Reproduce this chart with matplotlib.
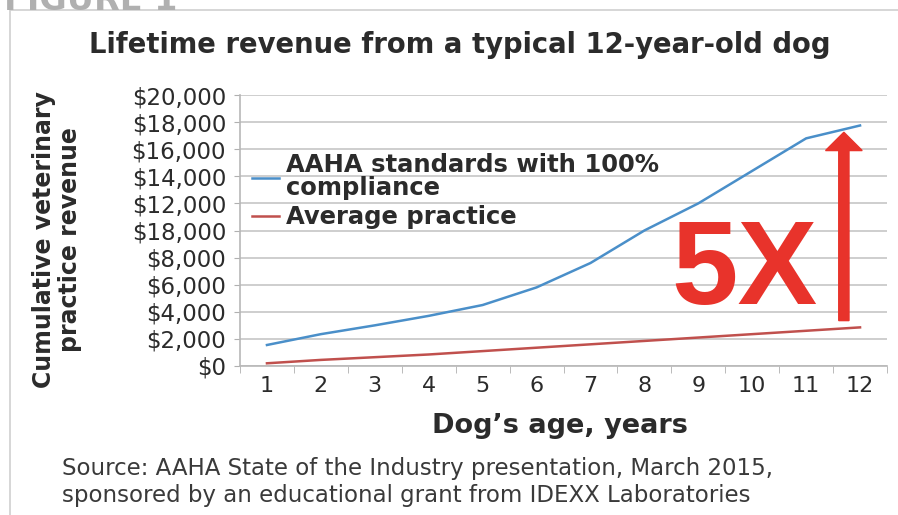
import matplotlib.pyplot as plt
from matplotlib.patches import FancyArrow, Rectangle

ages = list(range(1, 13))
aaha_revenue = [1550, 2350, 3000, 3700, 4500, 5800, 7600, 10000, 12000, 14400, 16800, 17750]
average_revenue = [200, 450, 650, 850, 1100, 1350, 1600, 1850, 2100, 2350, 2600, 2850]
y_ticks = list(range(0, 20001, 2000))
y_tick_labels = ["$0", "$2,000", "$4,000", "$6,000", "$8,000", "$18,000",
                 "$12,000", "$14,000", "$16,000", "$18,000", "$20,000"]
arrow_x = 11.7
arrow_y = [3350, 17250]

BLUE = "#4a8fc9"
RED = "#c0504d"
ARROW_RED = "#e8332b"
TEXT = "#2b2b2b"

plt.rcParams["font.family"] = ["DejaVu Sans"]

fig = plt.figure(figsize=(8.98, 5.15), dpi=100)

# light frame around the figure and the clipped "FIGURE 1" heading
fig.patches.append(Rectangle((10 / 898, -0.1), 1.0, 1 - 10 / 515 + 0.1,
                             transform=fig.transFigure, fill=False,
                             edgecolor="#d0d0d0", linewidth=1.2))
fig.text(4 / 898, 1.0, "FIGURE 1", fontsize=24, fontweight="bold",
         color="#b0b0b0", va="center", ha="left")

ax = fig.add_axes([240 / 898, 1 - 366 / 515, 647 / 898, 271 / 515])

ax.plot(ages, aaha_revenue, color=BLUE, linewidth=1.8,
        label="AAHA standards with 100%\ncompliance")
ax.plot(ages, average_revenue, color=RED, linewidth=1.8, label="Average practice")

ax.set_xlim(0.5, 12.5)
ax.set_ylim(0, 20000)
ax.set_yticks(y_ticks)
ax.set_yticklabels(y_tick_labels)
ax.set_xticks(ages)
ax.set_xticks([a + 0.5 for a in range(0, 13)], minor=True)
ax.tick_params(axis="x", which="major", length=0, labelsize=16, pad=7, colors=TEXT)
ax.tick_params(axis="x", which="minor", length=5, color="#b0b0b0")
ax.tick_params(axis="y", length=4, labelsize=16.5, pad=6, colors=TEXT)
ax.tick_params(axis="y", color="#b0b0b0")
ax.grid(axis="y", color="#c6c6c6", linewidth=1.2)
ax.set_axisbelow(True)
for side in ("top", "right"):
    ax.spines[side].set_visible(False)
for side in ("left", "bottom"):
    ax.spines[side].set_color("#b8b8b8")
    ax.spines[side].set_linewidth(1.2)

leg = ax.legend(loc="upper left", bbox_to_anchor=(0.0, 0.83), frameon=False,
                handlelength=1.1, handletextpad=0.3, labelspacing=0.2,
                borderaxespad=0.1, prop={"size": 17.5, "weight": "bold"})
for t in leg.get_texts():
    t.set_color(TEXT)
    t.set_linespacing(0.95)

ax.add_patch(FancyArrow(arrow_x, arrow_y[0], 0, arrow_y[1] - arrow_y[0],
                        width=0.19, head_width=0.68, head_length=1350,
                        length_includes_head=True, color=ARROW_RED, zorder=5))
ax.text(11.21, 6850, "5X", fontsize=86, fontweight="bold", color=ARROW_RED,
        ha="right", va="center", family=["Liberation Sans", "DejaVu Sans"])

fig.text(460 / 898, 1 - 45 / 515, "Lifetime revenue from a typical 12-year-old dog",
         fontsize=19.8, fontweight="bold", color=TEXT, ha="center", va="center")
fig.text(57 / 898, 1 - 240 / 515, "Cumulative veterinary\npractice revenue",
         rotation=90, fontsize=17, fontweight="bold", color=TEXT,
         ha="center", va="center", linespacing=1.15)
fig.text(560 / 898, 1 - 426 / 515, "Dog\u2019s age, years", fontsize=19.5,
         fontweight="bold", color=TEXT, ha="center", va="center")
fig.text(62 / 898, 1 - 482 / 515,
         "Source: AAHA State of the Industry presentation, March 2015,\n"
         "sponsored by an educational grant from IDEXX Laboratories",
         fontsize=16.5, color="#3a3a3a", ha="left", va="center", linespacing=1.2)

fig.savefig("out.png", dpi=100)
